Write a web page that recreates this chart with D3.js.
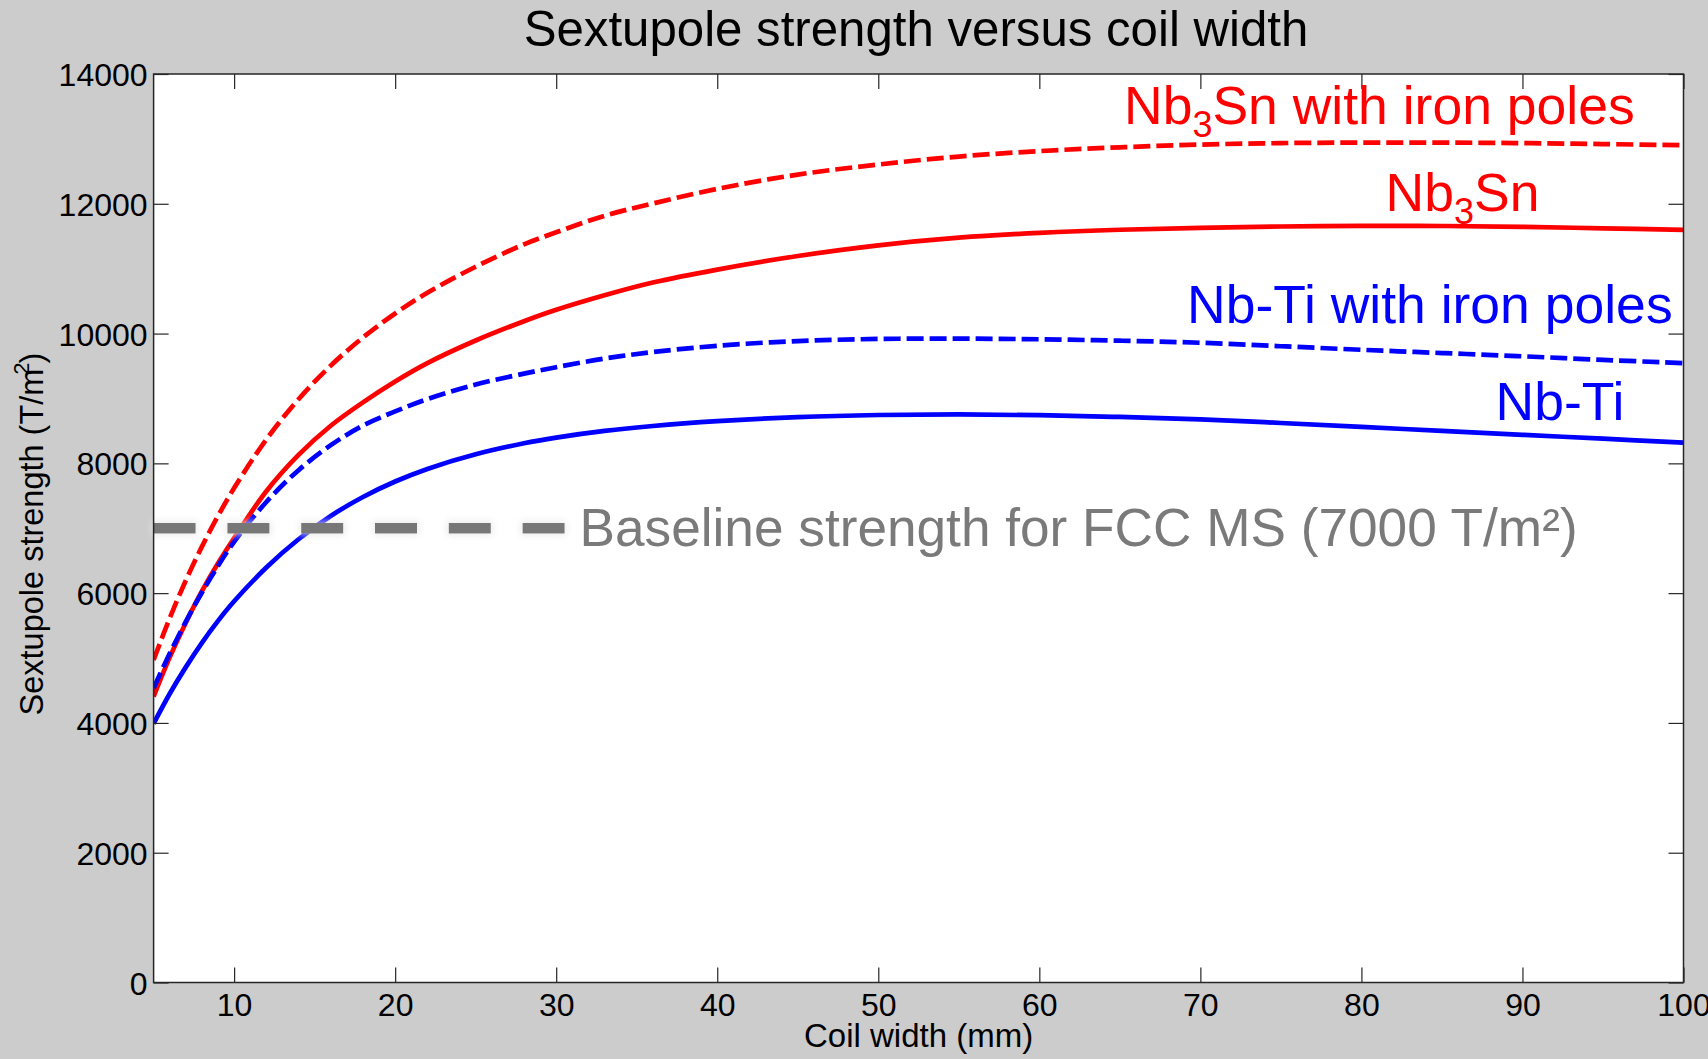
<!DOCTYPE html>
<html>
<head>
<meta charset="utf-8">
<script src="https://cdn.jsdelivr.net/npm/d3@7"></script>
<style>
  html, body { margin: 0; padding: 0; background: #cccccc; }
  svg { display: block; }
  text { font-family: "Liberation Sans", Arial, sans-serif; }
</style>
</head>
<body>
<svg id="chart" width="1708" height="1059"></svg>
<script>
// ---------- data ----------
const coilWidth = [5,6,7,8,9,10,12,14,16,18,20,22,25,28,30,33,36,40,45,50,55,60,65,70,75,80,85,90,95,100];
const nb3snIron = [4970,5615,6195,6717,7189,7619,8368,8989,9506,9940,10310,10630,11030,11375,11560,11815,12004,12230,12450,12605,12728,12812,12870,12912,12935,12943,12943,12935,12920,12903];
const nb3sn     = [4406,5010,5545,6030,6460,6850,7570,8130,8580,8940,9262,9545,9893,10190,10366,10590,10786,10986,11195,11360,11478,11552,11600,11628,11650,11660,11658,11645,11622,11598];
const nbtiIron  = [4535,5070,5560,6010,6420,6790,7405,7895,8280,8583,8800,8990,9215,9383,9482,9615,9715,9812,9885,9917,9922,9912,9890,9858,9805,9750,9700,9650,9595,9544];
const nbti      = [3990,4450,4860,5235,5573,5875,6395,6830,7190,7482,7720,7914,8140,8310,8397,8500,8576,8650,8712,8745,8755,8742,8715,8678,8622,8562,8500,8440,8380,8320];
const baselineX = [5, 30.6];
const baselineValue = 7000;
const xTicks = [10,20,30,40,50,60,70,80,90,100];
const yTicks = [0,2000,4000,6000,8000,10000,12000,14000];
const titleText = "Sextupole strength versus coil width";
const xLabel = "Coil width (mm)";
const baselineLabel = "Baseline strength for FCC MS (7000 T/m²)";

// ---------- layout ----------
const W = 1708, H = 1059;
const L = 153.6, R = 1683.5, T = 74, B = 982.5;
const svg = d3.select("#chart");

const x = d3.scaleLinear().domain([5, 100]).range([L, R]);
const y = d3.scaleLinear().domain([0, 14000]).range([B, T]);

svg.append("rect").attr("x",0).attr("y",0).attr("width",W).attr("height",H).attr("fill","#cccccc");
svg.append("rect").attr("x",L).attr("y",T).attr("width",R-L).attr("height",B-T).attr("fill","#ffffff");

const defs = svg.append("defs");
defs.append("clipPath").attr("id","plotclip").append("rect")
  .attr("x",L).attr("y",T).attr("width",R-L).attr("height",B-T);
const glow = defs.append("filter").attr("id","glow")
  .attr("filterUnits","userSpaceOnUse")
  .attr("x",L-20).attr("y",y(baselineValue)-40).attr("width",520).attr("height",80);
glow.append("feMorphology").attr("in","SourceAlpha").attr("operator","dilate").attr("radius",2).attr("result","dil");
glow.append("feGaussianBlur").attr("in","dil").attr("stdDeviation",3.5).attr("result","blur");
glow.append("feFlood").attr("flood-color","#e6e6e6").attr("flood-opacity",0.75).attr("result","col");
glow.append("feComposite").attr("in","col").attr("in2","blur").attr("operator","in").attr("result","shadow");
const gm = glow.append("feMerge");
gm.append("feMergeNode").attr("in","shadow");
gm.append("feMergeNode").attr("in","SourceGraphic");

// ---------- curves ----------
const series = [
  { values: nbti,      color: "#0000ff", dash: null },
  { values: nb3sn,     color: "#ff0000", dash: null },
  { values: nbtiIron,  color: "#0000ff", dash: "17,6" },
  { values: nb3snIron, color: "#ff0000", dash: "17,6" }
];
const line = d3.line()
  .x(d => x(d[0]))
  .y(d => y(d[1]))
  .curve(d3.curveCatmullRom.alpha(0.5));

const gCurves = svg.append("g").attr("clip-path","url(#plotclip)");
series.forEach(s => {
  const pts = coilWidth.map((c, i) => [c, s.values[i]]);
  gCurves.append("path")
    .attr("d", line(pts))
    .attr("fill","none")
    .attr("stroke", s.color)
    .attr("stroke-width", 4.7)
    .attr("stroke-dasharray", s.dash)
    .attr("stroke-linejoin","round");
});

// baseline dashed gray line
svg.append("path")
  .attr("d", `M${x(baselineX[0])},${y(baselineValue)}H${x(baselineX[1])}`)
  .attr("fill","none")
  .attr("stroke","#777777").attr("stroke-width",10.5)
  .attr("stroke-dasharray","42,31.8")
  .attr("filter","url(#glow)");

// ---------- axes ----------
const axisColor = "#262626";
function styleAxis(g) {
  g.select(".domain").remove();
  g.selectAll(".tick line").attr("stroke", axisColor).attr("stroke-width", 1.2);
  g.selectAll(".tick text").attr("fill","#000").style("font-size","32px")
    .style("font-family", '"Liberation Sans", Arial, sans-serif');
}
const gx = svg.append("g").attr("transform",`translate(0,${B})`)
  .call(d3.axisBottom(x).tickValues(xTicks).tickSizeInner(-15).tickSizeOuter(0).tickPadding(0).tickFormat(d3.format("d")));
styleAxis(gx);
gx.selectAll(".tick text").attr("y", 33).attr("dy", null);

const gxt = svg.append("g").attr("transform",`translate(0,${T})`)
  .call(d3.axisTop(x).tickValues(xTicks).tickSizeInner(-15).tickSizeOuter(0).tickFormat(""));
styleAxis(gxt);

const gy = svg.append("g").attr("transform",`translate(${L},0)`)
  .call(d3.axisLeft(y).tickValues(yTicks).tickSizeInner(-15).tickSizeOuter(0).tickFormat(d3.format("d")));
styleAxis(gy);
gy.selectAll(".tick text").attr("x", -6).attr("dy", "0.36em");

const gyr = svg.append("g").attr("transform",`translate(${R},0)`)
  .call(d3.axisRight(y).tickValues(yTicks).tickSizeInner(-15).tickSizeOuter(0).tickFormat(""));
styleAxis(gyr);

// box
svg.append("rect").attr("x",L).attr("y",T).attr("width",R-L).attr("height",B-T)
  .attr("fill","none").attr("stroke",axisColor).attr("stroke-width",1.5);

// ---------- texts ----------
svg.append("text").attr("x", 916).attr("y", 46).attr("text-anchor","middle")
  .style("font-size","49.2px").attr("fill","#000").text(titleText);

svg.append("text").attr("x", (L+R)/2).attr("y", 1047).attr("text-anchor","middle")
  .style("font-size","33px").attr("fill","#000").text(xLabel);

const yl = svg.append("text").attr("transform","translate(43,534) rotate(-90)")
  .attr("text-anchor","middle").style("font-size","32.5px").attr("fill","#000");
yl.append("tspan").text("Sextupole strength (T/m");
yl.append("tspan").attr("dx",-6).attr("dy",-14).style("font-size","22px").text("2");
yl.append("tspan").attr("dx",-1).attr("dy",14).text(")");

function chemLabel(xp, yp, color, pre, sub, post) {
  const t = svg.append("text").attr("x", xp).attr("y", yp).attr("fill", color).style("font-size","53.5px");
  t.append("tspan").text(pre);
  if (sub) {
    t.append("tspan").attr("dy", 13).style("font-size","36px").text(sub);
    t.append("tspan").attr("dy", -13).text(post);
  }
  return t;
}
chemLabel(1124, 123.5, "#ff0000", "Nb", "3", "Sn with iron poles");
chemLabel(1385.6, 210.7, "#ff0000", "Nb", "3", "Sn");
chemLabel(1187, 322.7, "#0000ff", "Nb-Ti with iron poles", null, null);
chemLabel(1495.6, 420, "#0000ff", "Nb-Ti", null, null);

svg.append("text").attr("x", 579.5).attr("y", 545.5).attr("fill","#7a7a7a")
  .style("font-size","53.2px").text(baselineLabel);
</script>
</body>
</html>
